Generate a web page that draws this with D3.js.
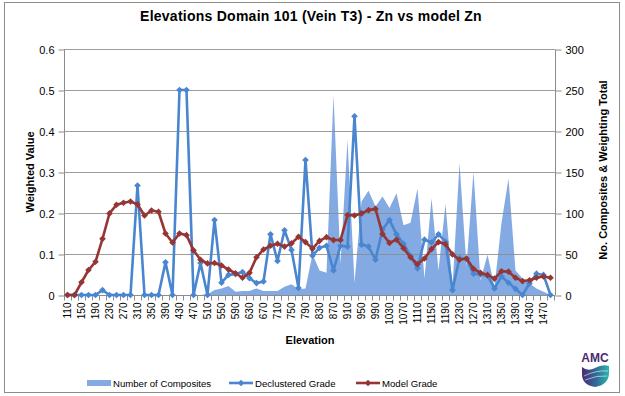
<!DOCTYPE html>
<html>
<head>
<meta charset="utf-8">
<script src="https://cdn.jsdelivr.net/npm/d3@7/dist/d3.min.js"></script>
<style>
  body { margin: 0; background: #fff; }
  svg { display: block; font-family: "Liberation Sans", Arial, sans-serif; }
</style>
</head>
<body>
<div id="chart"></div>
<script>
// elevation categories (every 20 m)
let elevations = [110, 130, 150, 170, 190, 210, 230, 250, 270, 290,
	310, 330, 350, 370, 390, 410, 430, 450, 470, 490,
	510, 530, 550, 570, 590, 610, 630, 650, 670, 690,
	710, 730, 750, 770, 790, 810, 830, 850, 870, 890,
	910, 930, 950, 970, 990, 1010, 1030, 1050, 1070, 1090,
	1110, 1130, 1150, 1170, 1190, 1210, 1230, 1250, 1270, 1290,
	1310, 1330, 1350, 1370, 1390, 1410, 1430, 1450, 1470, 1490];

// number of composites (right axis)
let composites = [0, 0, 0, 0, 0, 0, 0, 0, 0, 0,
	0, 0, 0, 0, 0, 0, 0, 0, 0, 0,
	1, 6, 8, 11, 4, 5, 5, 8, 5, 5,
	5, 10, 13, 7, 8, 50, 30, 27, 244, 38,
	189, 15, 114, 127, 108, 120, 106, 124, 85, 88,
	130, 20, 118, 30, 111, 10, 161, 35, 150, 18,
	49, 10, 88, 142, 30, 20, 14, 8, 4, 0];

// declustered grade (left axis)
let declustered = [0, 0, 0, 0, 0, 0.012, 0, 0, 0, 0,
	0.267, 0, 0, 0, 0.08, 0, 0.5, 0.5, 0, 0.078,
	0, 0.183, 0.03, 0.049, 0.051, 0.056, 0.041, 0.029, 0.033, 0.148,
	0.083, 0.158, 0.11, 0.017, 0.329, 0.096, 0.115, 0.12, 0.06, 0.12,
	0.118, 0.436, 0.123, 0.118, 0.086, 0.16, 0.183, 0.148, 0.125, 0.095,
	0.065, 0.135, 0.128, 0.148, 0.13, 0.012, 0.09, 0.088, 0.052, 0.05,
	0.047, 0.016, 0.045, 0.03, 0.015, 0, 0.028, 0.052, 0.049, 0];

// model grade (left axis)
let model = [0, 0, 0.031, 0.061, 0.081, 0.137, 0.199, 0.22, 0.225, 0.228,
	0.221, 0.194, 0.206, 0.203, 0.15, 0.128, 0.15, 0.146, 0.109, 0.086,
	0.077, 0.078, 0.072, 0.062, 0.053, 0.042, 0.054, 0.092, 0.111, 0.12,
	0.125, 0.118, 0.126, 0.142, 0.129, 0.113, 0.132, 0.141, 0.134, 0.134,
	0.195, 0.194, 0.199, 0.207, 0.21, 0.149, 0.127, 0.135, 0.114, 0.092,
	0.075, 0.089, 0.112, 0.129, 0.124, 0.099, 0.086, 0.089, 0.064, 0.054,
	0.049, 0.04, 0.058, 0.057, 0.042, 0.034, 0.036, 0.042, 0.045, 0.042];

let leftTicks = [0, 0.1, 0.2, 0.3, 0.4, 0.5, 0.6];
let rightTicks = [0, 50, 100, 150, 200, 250, 300];

let width = 625,
	height = 396;
let plot = { left: 64, right: 554, top: 49, bottom: 295 };

let areaColor = '#4f86d6';
let blueColor = '#4a86cf';
let redColor = '#963634';
let gridColor = '#8c8c8c';

let svg = d3.select('#chart').append('svg').attr('width', width).attr('height', height);

// chart frame
svg.append('rect')
	.attr('x', 4.5).attr('y', 2.5)
	.attr('width', 615).attr('height', 390)
	.attr('fill', '#fff').attr('stroke', '#8c8c8c');

let x = d3.scaleBand().domain(elevations).range([plot.left, plot.right]).padding(0);
let yL = d3.scaleLinear().domain([0, 0.6]).range([plot.bottom, plot.top]);
let yR = d3.scaleLinear().domain([0, 300]).range([plot.bottom, plot.top]);
let cx = (d) => x(d) + x.bandwidth() / 2;

// composites area (drawn first, behind the gridlines)
let firstArea = composites.findIndex((d) => d > 0) - 1;
svg.append('path')
	.datum(composites.slice(firstArea))
	.attr('d', d3.area()
		.x((d, i) => cx(elevations[i + firstArea]))
		.y0(yR(0))
		.y1((d) => yR(d)))
	.attr('fill', areaColor)
	.attr('fill-opacity', 0.7);

// gridlines
svg.append('g')
	.selectAll('line')
	.data(leftTicks.slice(1))
	.enter()
	.append('line')
	.attr('x1', plot.left).attr('x2', plot.right + 1)
	.attr('y1', (d) => Math.round(yL(d)) + 0.5)
	.attr('y2', (d) => Math.round(yL(d)) + 0.5)
	.attr('stroke', gridColor)
	.attr('stroke-opacity', 0.85);

// left axis
let leftAxis = d3.axisLeft(yL).tickValues(leftTicks).tickSize(6).tickPadding(4).tickFormat((d) => d);
let gL = svg.append('g').attr('transform', 'translate(' + (plot.left + 0.5) + ',0.5)').call(leftAxis);

// right axis
let rightAxis = d3.axisRight(yR).tickValues(rightTicks).tickSize(6).tickPadding(4);
let gR = svg.append('g').attr('transform', 'translate(' + (plot.right + 1.5) + ',0.5)').call(rightAxis);

// bottom axis: ticks at category edges, labels every other category
let gB = svg.append('g').attr('transform', 'translate(0,' + (plot.bottom + 0.5) + ')');
gB.append('line')
	.attr('x1', plot.left).attr('x2', plot.right + 1)
	.attr('stroke', gridColor);
gB.selectAll('.tk')
	.data(elevations.concat([null]))
	.enter()
	.append('line')
	.attr('x1', (d, i) => Math.round(plot.left + i * x.bandwidth()) + 0.5)
	.attr('x2', (d, i) => Math.round(plot.left + i * x.bandwidth()) + 0.5)
	.attr('y1', 0).attr('y2', 5)
	.attr('stroke', gridColor);
gB.selectAll('text')
	.data(elevations.filter((d, i) => i % 2 == 0))
	.enter()
	.append('text')
	.attr('transform', (d) => 'translate(' + cx(d) + ',7) rotate(-90)')
	.attr('dy', '0.35em')
	.attr('text-anchor', 'end')
	.style('font-size', '10px')
	.attr('fill', '#000')
	.text((d) => d);

[gL, gR].forEach((g) => {
	g.select('.domain').attr('stroke', gridColor);
	g.selectAll('.tick line').attr('stroke', gridColor);
	g.selectAll('.tick text').style('font-size', '11px').style('font-family', '"Liberation Sans", Arial, sans-serif').attr('fill', '#000');
});
gL.select('.domain').attr('d', 'M0,' + plot.top + 'V' + plot.bottom);
gR.select('.domain').attr('d', 'M0,' + plot.top + 'V' + plot.bottom);

// lines
let diamond = d3.symbol().type(d3.symbolSquare).size(22);

function drawSeries(values, color) {
	let line = d3.line()
		.x((d, i) => cx(elevations[i]))
		.y((d) => yL(d));
	svg.append('path')
		.datum(values)
		.attr('d', line)
		.attr('fill', 'none')
		.attr('stroke', color)
		.attr('stroke-width', 2.6)
		.attr('stroke-linejoin', 'round');
	svg.append('g')
		.selectAll('path')
		.data(values)
		.enter()
		.append('path')
		.attr('d', diamond)
		.attr('transform', (d, i) => 'translate(' + cx(elevations[i]) + ',' + yL(d) + ') rotate(45)')
		.attr('fill', color);
}
drawSeries(declustered, blueColor);
drawSeries(model, redColor);

// titles
svg.append('text')
	.attr('x', 311).attr('y', 21)
	.attr('text-anchor', 'middle')
	.style('font-size', '14px').style('font-weight', 'bold')
	.style('letter-spacing', '0.25px')
	.text('Elevations Domain 101 (Vein T3) - Zn vs model Zn');

svg.append('text')
	.attr('x', 310).attr('y', 344)
	.attr('text-anchor', 'middle')
	.style('font-size', '11px').style('font-weight', 'bold')
	.text('Elevation');

svg.append('text')
	.attr('transform', 'translate(34,172) rotate(-90)')
	.attr('text-anchor', 'middle')
	.style('font-size', '11px').style('font-weight', 'bold')
	.text('Weighted Value');

svg.append('text')
	.attr('transform', 'translate(607,170) rotate(-90)')
	.attr('text-anchor', 'middle')
	.style('font-size', '11px').style('font-weight', 'bold')
	.text('No. Composites & Weighting Total');

// legend
let legendY = 383;
let legend = svg.append('g').style('font-size', '9.6px');
legend.append('rect')
	.attr('x', 87).attr('y', legendY - 3)
	.attr('width', 24).attr('height', 6)
	.attr('fill', areaColor).attr('fill-opacity', 0.7);
legend.append('text').attr('x', 113).attr('y', legendY + 3.5).text('Number of Composites');

[[229, 'Declustered Grade', blueColor], [356, 'Model Grade', redColor]].forEach((item) => {
	legend.append('line')
		.attr('x1', item[0]).attr('x2', item[0] + 24)
		.attr('y1', legendY).attr('y2', legendY)
		.attr('stroke', item[2]).attr('stroke-width', 2.6);
	legend.append('path')
		.attr('d', diamond)
		.attr('transform', 'translate(' + (item[0] + 12) + ',' + legendY + ') rotate(45)')
		.attr('fill', item[2]);
	legend.append('text').attr('x', item[0] + 26).attr('y', legendY + 3.5).text(item[1]);
});

// AMC logo
let defs = svg.append('defs');
let grad = defs.append('linearGradient').attr('id', 'amcGrad').attr('x1', '0').attr('x2', '1').attr('y1', '0').attr('y2', '0');
grad.append('stop').attr('offset', '0%').attr('stop-color', '#4b2a73');
grad.append('stop').attr('offset', '55%').attr('stop-color', '#2f6f9a');
grad.append('stop').attr('offset', '100%').attr('stop-color', '#2cb6b0');

svg.append('text')
	.attr('x', 595).attr('y', 362)
	.attr('text-anchor', 'middle')
	.style('font-size', '12px').style('font-weight', 'bold')
	.attr('fill', '#4b2a73')
	.text('AMC');
svg.append('path')
	.attr('d', 'M582,367 Q588,372 595,368 Q602,364 609,366 L609,374 Q608,385 595,387 Q582,385 582,374 Z')
	.attr('fill', 'url(#amcGrad)');
svg.append('path')
	.attr('d', 'M584,376 Q596,370 608,371 M585,380 Q597,375 607,376')
	.attr('fill', 'none').attr('stroke', '#fff').attr('stroke-width', 0.7).attr('stroke-opacity', 0.8);
</script>
</body>
</html>
